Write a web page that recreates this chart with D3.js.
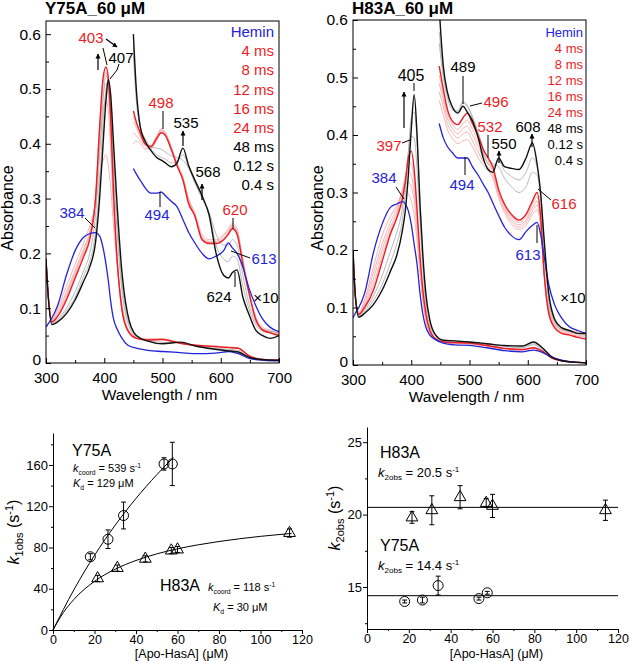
<!DOCTYPE html>
<html><head><meta charset="utf-8">
<script src="https://cdn.jsdelivr.net/npm/d3@7"></script>
<style>body{margin:0;background:#fff}svg{display:block}</style>
</head><body><svg id="chart" width="629" height="661"></svg>
<script>
// ---------------- DATA ----------------
const legendLabels = ["Hemin","4 ms","8 ms","12 ms","16 ms","24 ms","48 ms","0.12 s","0.4 s"];
const spectraXTicks = [300,400,500,600,700];
const spectraXMinor = [350,450,550,650];
const absTicks = [0,0.1,0.2,0.3,0.4,0.5,0.6];
const absMinor = [0.05,0.15,0.25,0.35,0.45,0.55];

// Panel A: Y75A 60 uM, full spectra
const wlA = [300,304,310,320,335,350,365,375,385,392,398,403,407,411,416,422,430,440,455,475,500,530,560,590,615,630,650,675,700];
const y75aHemin = [.066,.072,.082,.105,.16,.205,.23,.236,.238,.232,.21,.18,.15,.113,.08,.062,.046,.033,.027,.023,.021,.019,.017,.018,.021,.017,.008,.005,.004];
const y75a4ms  = [.19,.12,.08,.1,.14,.18,.22,.25,.29,.34,.37,.38,.36,.32,.25,.18,.11,.065,.048,.044,.044,.037,.033,.031,.029,.027,.013,.007,.005];
const y75a8ms  = [.19,.12,.079,.095,.13,.17,.21,.24,.3,.39,.46,.48,.46,.39,.28,.185,.105,.062,.047,.043,.044,.036,.032,.03,.029,.027,.012,.006,.005];
const y75a12ms = [.19,.12,.078,.09,.125,.165,.205,.235,.3,.41,.49,.51,.49,.41,.29,.19,.1,.06,.046,.043,.043,.036,.032,.03,.028,.027,.012,.006,.005];
const y75a16ms = [.19,.12,.077,.088,.12,.16,.2,.23,.3,.425,.51,.53,.51,.43,.3,.19,.1,.06,.045,.042,.043,.036,.032,.03,.028,.027,.012,.006,.005];
const y75a24ms = [.19,.12,.075,.085,.115,.155,.195,.225,.3,.43,.52,.54,.52,.45,.31,.19,.1,.06,.045,.042,.043,.036,.032,.03,.028,.027,.012,.006,.005];
const y75a48ms = [.19,.12,.073,.08,.1,.13,.17,.2,.27,.38,.48,.525,.51,.45,.35,.24,.135,.075,.048,.041,.038,.037,.031,.027,.025,.023,.011,.006,.005];
const y75a012s = [.19,.12,.072,.077,.095,.12,.16,.185,.24,.33,.44,.5,.517,.47,.38,.265,.15,.082,.05,.04,.036,.037,.03,.026,.023,.021,.01,.006,.005];
const y75a04s  = [.19,.12,.07,.075,.09,.115,.15,.175,.22,.3,.4,.48,.517,.49,.4,.29,.17,.09,.05,.04,.035,.038,.03,.025,.022,.02,.01,.006,.005];
// Panel A, x10 region
const wlA10 = [450,455,462,470,480,490,498,505,515,525,535,545,555,568,580,592,605,613,620,628,638,648,660,672,685,700];
const y75aHeminX10 = [.355,.345,.333,.32,.31,.31,.312,.305,.295,.285,.262,.238,.22,.2,.19,.195,.205,.219,.21,.2,.175,.138,.105,.08,.065,.057];
const y75a4msX10  = [.40,.405,.40,.39,.395,.415,.425,.42,.395,.365,.34,.30,.275,.235,.225,.225,.235,.245,.255,.245,.19,.135,.085,.065,.06,.055];
const y75a8msX10  = [.42,.415,.405,.395,.39,.41,.428,.42,.39,.36,.338,.298,.272,.23,.222,.222,.232,.242,.25,.24,.185,.13,.08,.062,.058,.052];
const y75a12msX10 = [.44,.43,.412,.398,.392,.405,.422,.418,.392,.362,.336,.296,.27,.228,.22,.22,.228,.238,.248,.238,.183,.132,.082,.062,.056,.05];
const y75a16msX10 = [.45,.435,.415,.40,.393,.408,.425,.416,.39,.36,.335,.295,.27,.226,.219,.219,.226,.236,.252,.236,.182,.131,.081,.061,.055,.05];
const y75a24msX10 = [.46,.44,.42,.40,.395,.41,.42,.415,.39,.36,.334,.29,.27,.225,.218,.218,.225,.235,.245,.235,.18,.13,.08,.06,.055,.05];
const y75a48msX10 = [.56,.48,.43,.41,.395,.392,.39,.385,.378,.375,.37,.355,.33,.3,.275,.235,.215,.215,.225,.215,.16,.11,.075,.062,.058,.055];
const y75a012sX10 = [.58,.49,.43,.405,.39,.38,.375,.372,.365,.368,.38,.358,.332,.302,.272,.215,.19,.185,.195,.19,.14,.1,.07,.058,.055,.052];
const y75a04sX10  = [.60,.50,.43,.405,.388,.375,.37,.365,.358,.365,.392,.36,.335,.305,.27,.2,.16,.155,.165,.17,.12,.09,.06,.05,.045,.05];

// Panel B: H83A 60 uM, full spectra
const wlB = [300,304,310,320,335,350,365,375,385,390,395,400,405,410,415,420,425,432,440,455,475,500,530,560,590,610,625,640,660,680,700];
const h83aHemin = [.082,.09,.1,.125,.195,.245,.275,.28,.284,.28,.268,.245,.21,.175,.125,.088,.066,.052,.045,.038,.035,.034,.03,.025,.023,.026,.022,.014,.008,.005,.004];
const h83a4ms  = [.2,.12,.092,.115,.17,.225,.26,.278,.298,.302,.298,.285,.26,.215,.16,.11,.077,.055,.046,.04,.038,.037,.033,.028,.026,.029,.024,.013,.007,.005,.004];
const h83a8ms  = [.2,.12,.09,.11,.16,.21,.25,.272,.305,.315,.318,.31,.285,.235,.17,.115,.08,.056,.046,.04,.038,.037,.033,.028,.026,.029,.024,.013,.007,.005,.004];
const h83a12ms = [.2,.12,.089,.105,.15,.2,.242,.265,.305,.325,.335,.33,.3,.25,.178,.12,.083,.057,.046,.04,.038,.037,.033,.028,.026,.029,.024,.013,.007,.005,.004];
const h83a16ms = [.2,.12,.088,.102,.14,.19,.235,.26,.3,.33,.352,.35,.32,.26,.185,.125,.086,.058,.046,.04,.039,.038,.034,.029,.027,.03,.024,.013,.007,.005,.004];
const h83a24ms = [.2,.12,.088,.1,.13,.18,.23,.255,.29,.32,.36,.372,.34,.27,.19,.13,.09,.06,.047,.04,.039,.038,.034,.029,.027,.03,.024,.013,.007,.005,.004];
const h83a48ms = [.2,.12,.086,.095,.12,.155,.2,.23,.275,.32,.37,.398,.395,.34,.25,.165,.105,.068,.05,.042,.041,.039,.036,.032,.03,.035,.027,.014,.007,.005,.004];
const h83a012s = [.2,.12,.085,.092,.112,.14,.18,.21,.255,.3,.37,.43,.44,.39,.285,.185,.118,.074,.053,.043,.042,.04,.037,.033,.031,.037,.028,.014,.007,.005,.004];
const h83a04s  = [.2,.12,.083,.09,.105,.13,.165,.19,.235,.27,.33,.41,.47,.40,.28,.19,.125,.078,.055,.043,.042,.04,.037,.034,.033,.04,.03,.015,.007,.005,.004];
// Panel B, x10 region
const wlB10 = [448,455,462,470,480,489,496,505,515,525,532,540,550,560,572,585,597,608,616,622,628,636,646,658,672,686,700];
const h83aHeminX10 = [.42,.395,.38,.37,.36,.36,.36,.345,.33,.312,.3,.282,.26,.24,.225,.218,.232,.243,.248,.228,.19,.14,.105,.082,.066,.06,.055];
const h83a4msX10  = [.46,.435,.41,.395,.385,.39,.392,.38,.36,.345,.338,.325,.29,.265,.245,.236,.243,.262,.27,.24,.16,.1,.075,.065,.06,.058,.055];
const h83a8msX10  = [.475,.45,.42,.405,.395,.402,.405,.39,.37,.352,.344,.33,.295,.27,.25,.24,.248,.268,.278,.245,.162,.098,.072,.062,.058,.055,.052];
const h83a12msX10 = [.49,.46,.43,.412,.402,.412,.415,.4,.38,.358,.35,.336,.3,.274,.254,.244,.252,.274,.285,.25,.162,.095,.07,.06,.056,.052,.05];
const h83a16msX10 = [.505,.47,.438,.42,.41,.42,.425,.41,.388,.365,.355,.34,.302,.277,.258,.248,.257,.28,.292,.255,.16,.092,.068,.058,.054,.05,.048];
const h83a24msX10 = [.52,.48,.445,.425,.418,.43,.438,.42,.398,.372,.36,.345,.305,.28,.262,.252,.262,.285,.3,.26,.16,.09,.065,.055,.052,.048,.045];
const h83a48msX10 = [.56,.5,.465,.445,.44,.455,.45,.43,.405,.372,.36,.35,.345,.325,.31,.3,.31,.335,.33,.29,.2,.11,.075,.062,.058,.054,.052];
const h83a012sX10 = [.58,.51,.47,.45,.442,.458,.452,.432,.4,.365,.35,.345,.355,.338,.328,.322,.335,.36,.345,.3,.215,.118,.078,.064,.059,.055,.053];
const h83a04sX10  = [.62,.52,.475,.45,.438,.45,.44,.425,.395,.355,.34,.335,.36,.345,.342,.34,.36,.386,.35,.3,.22,.125,.08,.065,.06,.055,.055];

// Panel C: k1obs vs [Apo-HasA]
const concTicks = [0,20,40,60,80,100,120];
const concMinor = [10,30,50,70,90,110];
const k1Ticks = [0,40,80,120,160];
const k1Minor = [20,60,100,140,180];
const y75aConc = [18,26.5,34,53.5,57.5];
const y75aK1 = [71,88,111,161,161];
const y75aK1Err = [3,9,13,6,21];
const h83aConc = [21.5,31,44.5,57,60,114];
const h83aK1 = [50,60,69,77,78,94];
const h83aK1Err = [3,3,3,3,3,4];
const y75aFitConc = [0,10,20,30,40,50,58];
const y75aFitK1 = [0,38.8,72.4,101.7,127.6,150.5,167.2];
const h83aFitConc = [0,5,10,20,30,40,50,60,70,80,90,100,115];
const h83aFitK1 = [0,16.9,29.5,47.2,59,67.4,73.8,78.7,82.6,85.8,88.5,90.8,93.6];

// Panel D: k2obs vs [Apo-HasA]
const k2Ticks = [15,20,25];
const k2Minor = [12.5,17.5,22.5];
const h83aK2 = [19.8,20.3,21.2,20.8,20.6,20.3];
const h83aK2Err = [0.4,1.0,0.8,0.3,0.8,0.7];
const y75aK2 = [14.0,14.1,15.1,14.2,14.6];
const y75aK2Err = [0.1,0.2,0.65,0.1,0.1];
const k2FitConc = [0,120];
const h83aK2Fit = [20.5,20.5];
const y75aK2Fit = [14.4,14.4];

// ---------------- DRAWING ----------------
const FONT = '"Liberation Sans", Arial, Helvetica, sans-serif';
const C = {blue:"#2323d9", red:"#ec1c24", pink:"#f2a3a3", gray:"#a8a8a8", black:"#111"};
const svg = d3.select("#chart").attr("font-family", FONT);
const defs = svg.append("defs");
defs.append("marker").attr("id","arr").attr("viewBox","0 0 10 10")
  .attr("refX",9).attr("refY",5).attr("markerWidth",5).attr("markerHeight",6)
  .attr("markerUnits","userSpaceOnUse").attr("orient","auto")
  .append("path").attr("d","M0,0L10,5L0,10z").attr("fill","#000");

const xA = d3.scaleLinear().domain([300,700]).range([46,279]);
const yA = d3.scaleLinear().domain([0,0.624]).range([363,21]);
const xB = d3.scaleLinear().domain([300,700]).range([353,586]);
const yB = d3.scaleLinear().domain([0,0.6]).range([365,20]);
const xC = d3.scaleLinear().domain([0,120]).range([53,302]);
const yC = d3.scaleLinear().domain([0,191]).range([630,433]);
const xD = d3.scaleLinear().domain([0,120]).range([367,618]);
const yD = d3.scaleLinear().domain([12.1,26.05]).range([629,427]);

function styleAxis(a, size, keepDomain){
  if(!keepDomain) a.select(".domain").remove();
  else a.select(".domain").attr("stroke","#000");
  a.selectAll("line").attr("stroke","#000");
  a.selectAll("text").attr("font-family",FONT).attr("font-size",size).attr("fill","#000");
  return a;
}

function spectraAxes(g, x, y, title, titleX){
  const [l,r] = x.range(), [b,t] = y.range();
  styleAxis(g.append("g").attr("transform",`translate(0,${b})`)
    .call(d3.axisBottom(x).tickValues(spectraXTicks).tickSize(-5).tickPadding(9).tickFormat(d3.format("d"))),15);
  styleAxis(g.append("g").attr("transform",`translate(0,${b})`)
    .call(d3.axisBottom(x).tickValues(spectraXMinor).tickSize(-3).tickFormat("")),15);
  const ay = styleAxis(g.append("g").attr("transform",`translate(${l},0)`)
    .call(d3.axisLeft(y).tickValues(absTicks).tickSize(-5).tickPadding(5).tickFormat(d=>d===0?"0":d3.format(".1f")(d))),15.5);
  ay.selectAll(".tick text").filter(d=>d===0).attr("dy","0.1em");
  styleAxis(g.append("g").attr("transform",`translate(${l},0)`)
    .call(d3.axisLeft(y).tickValues(absMinor).tickSize(-3).tickFormat("")),16);
  g.append("rect").attr("x",l).attr("y",t).attr("width",r-l).attr("height",b-t)
    .attr("fill","none").attr("stroke","#000").attr("stroke-width",1);
  g.append("text").attr("x",(l+r)/2-3).attr("y",b+36.5).attr("text-anchor","middle")
    .attr("font-size",15.5).text("Wavelength / nm");
  g.append("text").attr("transform",`translate(${titleX},208) rotate(-90)`).attr("text-anchor","middle")
    .attr("font-size",16).text("Absorbance");
  g.append("text").attr("x",l-1).attr("y",14).attr("font-size",17).attr("font-weight","bold").text(title);
}

function drawSpectra(g, x, y, wl, wl10, list, clipId){
  const [l,r] = x.range(), [b,t] = y.range();
  defs.append("clipPath").attr("id",clipId).append("rect")
    .attr("x",l).attr("y",t).attr("width",r-l).attr("height",b-t);
  const gg = g.append("g").attr("clip-path",`url(#${clipId})`);
  const mk = xs => d3.line().x((d,i)=>x(xs[i])).y(d=>y(d)).curve(d3.curveMonotoneX);
  list.forEach(s=>{
    [[wl,s.full],[wl10,s.x10]].forEach(([xs,vals])=>{
      gg.append("path").attr("d",mk(xs)(vals)).attr("fill","none")
        .attr("stroke",s.color).attr("stroke-width",s.w).attr("stroke-opacity",s.op||1)
        .attr("stroke-linejoin","round");
    });
  });
}

function legend(g, xr, y0, dy, size){
  const cols = [C.blue,C.red,C.red,C.red,C.red,C.red,"#000","#000","#000"];
  legendLabels.forEach((t,i)=>g.append("text").attr("x",xr).attr("y",y0+i*dy).attr("dy","0.35em")
    .attr("text-anchor","end").attr("font-size",size).attr("fill",cols[i]).text(t));
}
function lab(g,t,cx,cy,col,size){
  g.append("text").attr("x",cx).attr("y",cy).attr("dy","0.35em").attr("text-anchor","middle")
    .attr("font-size",size).attr("fill",col).text(t);
}
function seg(g,pts,arrow){
  const p = g.append("path").attr("d",d3.line()(pts)).attr("fill","none").attr("stroke","#000").attr("stroke-width",1);
  if(arrow) p.attr("marker-end","url(#arr)").attr("stroke-width",1.2);
}

// Panel A
const gA = svg.append("g");
drawSpectra(gA, xA, yA, wlA, wlA10, [
  {full:y75a4ms, x10:y75a4msX10, color:C.pink, w:0.8},
  {full:y75a8ms, x10:y75a8msX10, color:C.pink, w:0.8},
  {full:y75a12ms, x10:y75a12msX10, color:C.pink, w:0.8},
  {full:y75a16ms, x10:y75a16msX10, color:C.pink, w:0.8},
  {full:y75a48ms, x10:y75a48msX10, color:C.gray, w:0.8},
  {full:y75a012s, x10:y75a012sX10, color:C.gray, w:0.8},
  {full:y75a24ms, x10:y75a24msX10, color:C.red, w:1.4},
  {full:y75aHemin, x10:y75aHeminX10, color:C.blue, w:1.3},
  {full:y75a04s, x10:y75a04sX10, color:C.black, w:1.4}
], "clipA");
spectraAxes(gA, xA, yA, "Y75A_60 \u03bcM", 13);
legend(gA, 274, 32, 19.1, 15);
lab(gA,"403",91,38,C.red,15); seg(gA,[[106,39],[117,47]],true);
lab(gA,"407",121,58,"#000",15); seg(gA,[[98,70],[98,54]],true);
seg(gA,[[103,48],[107,65]]); seg(gA,[[119,64],[117,70],[110,79]]);
lab(gA,"498",161,103,C.red,15); seg(gA,[[163,111],[163,129]]);
lab(gA,"535",186,123,"#000",15); seg(gA,[[183,146],[183,131]],true);
lab(gA,"568",208,172,"#000",15); seg(gA,[[202,200],[202,184]],true);
lab(gA,"384",72,213,C.blue,15); seg(gA,[[85,218],[95,228]]);
lab(gA,"494",157,215,C.blue,15); seg(gA,[[160,207],[160,192]]);
lab(gA,"620",235,210,C.red,15); seg(gA,[[233,218],[233,229]]);
lab(gA,"613",264,259,C.blue,15); seg(gA,[[250,258],[231,251]]);
lab(gA,"624",219,297,"#000",15); seg(gA,[[235,287],[235,272]]);
lab(gA,"\u00d710",266,298,"#000",15);

// Panel B
const gB = svg.append("g");
drawSpectra(gB, xB, yB, wlB, wlB10, [
  {full:h83a4ms, x10:h83a4msX10, color:C.pink, w:0.8},
  {full:h83a8ms, x10:h83a8msX10, color:C.pink, w:0.8},
  {full:h83a12ms, x10:h83a12msX10, color:C.pink, w:0.8},
  {full:h83a16ms, x10:h83a16msX10, color:C.pink, w:0.8},
  {full:h83a48ms, x10:h83a48msX10, color:C.gray, w:0.8},
  {full:h83a012s, x10:h83a012sX10, color:C.gray, w:0.8},
  {full:h83a24ms, x10:h83a24msX10, color:C.red, w:1.4},
  {full:h83aHemin, x10:h83aHeminX10, color:C.blue, w:1.3},
  {full:h83a04s, x10:h83a04sX10, color:C.black, w:1.4}
], "clipB");
spectraAxes(gB, xB, yB, "H83A_60 \u03bcM", 323);
legend(gB, 583, 32, 16, 13);
lab(gB,"405",411,75,"#000",16); seg(gB,[[414,83],[414,91]]);
seg(gB,[[404,128],[404,92]],true);
lab(gB,"397",389,146,C.red,15); seg(gB,[[402,143],[410,140]]);
lab(gB,"384",384,178,C.blue,15); seg(gB,[[396,187],[404,199]]);
lab(gB,"489",463,67,"#000",15); seg(gB,[[463,76],[463,104]]);
lab(gB,"496",496,102,C.red,15); seg(gB,[[482,103],[470,106]]);
lab(gB,"532",490,127,C.red,15); seg(gB,[[488,135],[488,158]]);
lab(gB,"550",504,144,"#000",15); seg(gB,[[499,163],[499,151]],true);
lab(gB,"608",528,127,"#000",15); seg(gB,[[532,147],[532,134]],true);
lab(gB,"616",564,204,C.red,15); seg(gB,[[551,200],[538,189]]);
lab(gB,"494",462,185,C.blue,15); seg(gB,[[465,175],[465,157]]);
lab(gB,"613",528,255,C.blue,15); seg(gB,[[537,243],[537,225]]);
lab(gB,"\u00d710",573,298,"#000",15);

// kinetics panels
function kinAxes(g, x, y, yt, ym, yFmt){
  const [l] = x.range(), [b] = y.range();
  styleAxis(g.append("g").attr("transform",`translate(0,${b})`)
    .call(d3.axisBottom(x).tickValues(concTicks).tickSize(4).tickSizeOuter(0).tickPadding(1)),12.5,true);
  styleAxis(g.append("g").attr("transform",`translate(0,${b})`)
    .call(d3.axisBottom(x).tickValues(concMinor).tickSize(2).tickFormat("")),12.5);
  styleAxis(g.append("g").attr("transform",`translate(${l},0)`)
    .call(d3.axisLeft(y).tickValues(yt).tickSize(4).tickSizeOuter(0).tickPadding(1).tickFormat(yFmt)),13,true);
  styleAxis(g.append("g").attr("transform",`translate(${l},0)`)
    .call(d3.axisLeft(y).tickValues(ym).tickSize(2).tickFormat("")),13);
  const [x0,x1] = x.range();
  g.append("text").attr("x",(x0+x1)/2+4).attr("y",658).attr("text-anchor","middle")
    .attr("font-size",12.5).text("[Apo-HasA] (\u03bcM)");
}
function kTitle(g, tx, ty, sub){
  const t = g.append("text").attr("transform",`translate(${tx},${ty}) rotate(-90)`)
    .attr("text-anchor","middle").attr("font-size",16);
  t.append("tspan").attr("font-style","italic").text("k");
  t.append("tspan").attr("font-size",11).attr("dy",4).text(sub);
  t.append("tspan").attr("dy",-4).text(" (s");
  t.append("tspan").attr("font-size",11).attr("dy",-6).text("-1");
  t.append("tspan").attr("dy",6).text(")");
}
function kText(g, x, y, big, sub, rest, sup, size){
  const t = g.append("text").attr("x",x).attr("y",y).attr("font-size",size);
  t.append("tspan").attr("font-style","italic").text(big);
  t.append("tspan").attr("font-size",size*0.62).attr("dy",size*0.25).text(sub);
  t.append("tspan").attr("dy",-size*0.25).text(rest);
  if(sup){ t.append("tspan").attr("font-size",size*0.62).attr("dy",-size*0.4).text(sup); }
}
function points(g, x, y, xs, ys, es, shape){
  xs.forEach((c,i)=>{
    const cx = x(c), lo = y(ys[i]-es[i]), hi = y(ys[i]+es[i]);
    g.append("path").attr("d",`M${cx},${lo}V${hi}M${cx-2.5},${lo}H${cx+2.5}M${cx-2.5},${hi}H${cx+2.5}`)
      .attr("stroke","#000").attr("stroke-width",1).attr("fill","none");
    if(shape==="circle"){
      g.append("circle").attr("cx",cx).attr("cy",y(ys[i])).attr("r",5).attr("fill","none").attr("stroke","#000");
    } else {
      g.append("path").attr("transform",`translate(${cx},${y(ys[i])})`)
        .attr("d",d3.symbol(d3.symbolTriangle,60)()).attr("fill","none").attr("stroke","#000");
    }
  });
}
function fit(g, x, y, xs, ys){
  g.append("path").attr("d",d3.line().x((d,i)=>x(xs[i])).y(d=>y(d)).curve(d3.curveMonotoneX)(ys))
    .attr("fill","none").attr("stroke","#000").attr("stroke-width",1);
}

// Panel C
const gC = svg.append("g");
kinAxes(gC, xC, yC, k1Ticks, k1Minor, d3.format("d"));
fit(gC, xC, yC, y75aFitConc, y75aFitK1);
fit(gC, xC, yC, h83aFitConc, h83aFitK1);
points(gC, xC, yC, y75aConc, y75aK1, y75aK1Err, "circle");
points(gC, xC, yC, h83aConc, h83aK1, h83aK1Err, "tri");
kTitle(gC, 19, 532, "1obs");
gC.append("text").attr("x",72).attr("y",456).attr("font-size",16).text("Y75A");
kText(gC, 73, 472, "k", "coord", " = 539 s", "-1", 11);
kText(gC, 73, 487, "K", "d", " = 129 \u03bcM", null, 11);
gC.append("text").attr("x",160).attr("y",591).attr("font-size",16).text("H83A");
kText(gC, 208, 591, "k", "coord", " = 118 s", "-1", 11);
kText(gC, 213, 611, "K", "d", " = 30 \u03bcM", null, 11);

// Panel D
const gD = svg.append("g");
kinAxes(gD, xD, yD, k2Ticks, k2Minor, d3.format("d"));
fit(gD, xD, yD, k2FitConc, h83aK2Fit);
fit(gD, xD, yD, k2FitConc, y75aK2Fit);
points(gD, xD, yD, h83aConc, h83aK2, h83aK2Err, "tri");
points(gD, xD, yD, y75aConc, y75aK2, y75aK2Err, "circle");
kTitle(gD, 340, 518, "2obs");
gD.append("text").attr("x",380).attr("y",458).attr("font-size",16).text("H83A");
kText(gD, 378, 477, "k", "2obs", " = 20.5 s", "-1", 13);
gD.append("text").attr("x",380).attr("y",551).attr("font-size",16).text("Y75A");
kText(gD, 378, 570, "k", "2obs", " = 14.4 s", "-1", 13);
</script></body></html>
